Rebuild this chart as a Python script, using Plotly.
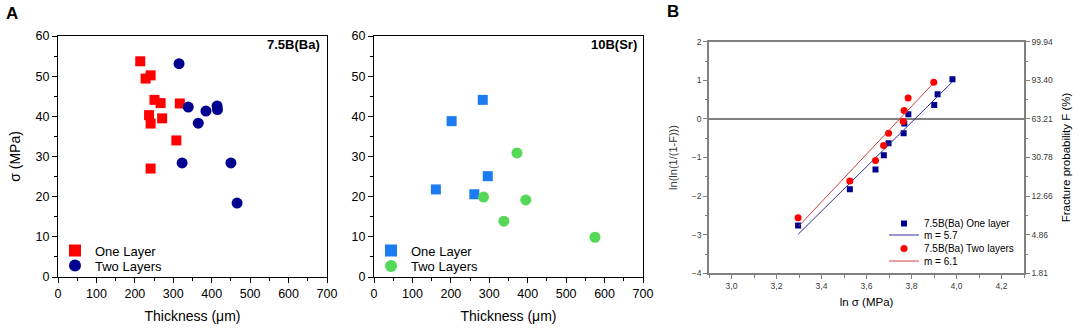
import plotly.graph_objects as go

# ---------------- data ----------------
# Panel A (left): 7.5B(Ba)
ba_one_thick = [214, 228, 241, 251, 267, 317, 237, 241, 271, 308, 241]
ba_one_sigma = [53.7, 49.4, 50.2, 44.1, 43.3, 43.2, 40.3, 38.2, 39.5, 34.0, 27.0]
ba_two_thick = [315, 339, 385, 414, 415, 365, 323, 450, 466]
ba_two_sigma = [53.1, 42.3, 41.3, 42.6, 41.7, 38.3, 28.4, 28.4, 18.4]
# Panel A (right): 10B(Sr)
sr_one_thick = [283, 202, 296, 161, 261]
sr_one_sigma = [44.1, 38.8, 25.1, 21.8, 20.6]
sr_two_thick = [372, 285, 395, 338, 575]
sr_two_sigma = [30.9, 19.9, 19.2, 13.9, 9.9]

# Panel B: Weibull plot
wb_one_lns = [3.296, 3.526, 3.640, 3.677, 3.698, 3.765, 3.768, 3.786, 3.901, 3.916, 3.982]
wb_one_y = [-2.76, -1.82, -1.31, -0.94, -0.63, -0.37, -0.12, 0.12, 0.36, 0.64, 1.03]
wb_two_lns = [3.296, 3.526, 3.640, 3.676, 3.698, 3.763, 3.767, 3.785, 3.899]
wb_two_y = [-2.56, -1.61, -1.08, -0.69, -0.37, -0.07, 0.22, 0.54, 0.95]
fit_one_lns = [3.296, 3.980]
fit_one_y = [-2.99, 0.95]
fit_two_lns = [3.300, 3.890]
fit_two_y = [-2.77, 0.88]

xB_tickvals = [3.0, 3.2, 3.4, 3.6, 3.8, 4.0, 4.2]
xB_ticktext = ["3,0", "3,2", "3,4", "3,6", "3,8", "4,0", "4,2"]
yB_tickvals = [2, 1, 0, -1, -2, -3, -4]
yB_right_ticktext = ["99.94", "93.40", "63.21", "30.78", "12.66", "4.86", "1.81"]

# ---------------- figure ----------------
W, H = 1084, 333
FONT = "Arial, 'Liberation Sans', sans-serif"


def px_x(p):
    return p / W


def px_y(p):
    return 1 - p / H


fig = go.Figure()

RED = "#ff0000"
NAVY = "#000090"
BLUE = "#1a7cf0"
GREEN = "#55d855"

fig.add_trace(go.Scatter(x=ba_one_thick, y=ba_one_sigma, mode="markers", name="One Layer",
                         marker=dict(symbol="square", size=10, color=RED),
                         xaxis="x", yaxis="y", legend="legend"))
fig.add_trace(go.Scatter(x=ba_two_thick, y=ba_two_sigma, mode="markers", name="Two Layers",
                         marker=dict(symbol="circle", size=11, color=NAVY),
                         xaxis="x", yaxis="y", legend="legend2"))
fig.add_trace(go.Scatter(x=sr_one_thick, y=sr_one_sigma, mode="markers", name="One Layer",
                         marker=dict(symbol="square", size=10, color=BLUE),
                         xaxis="x2", yaxis="y2", legend="legend3"))
fig.add_trace(go.Scatter(x=sr_two_thick, y=sr_two_sigma, mode="markers", name="Two Layers",
                         marker=dict(symbol="circle", size=11, color=GREEN),
                         xaxis="x2", yaxis="y2", legend="legend4"))

fig.add_trace(go.Scatter(x=wb_one_lns, y=wb_one_y, mode="markers", name="7.5B(Ba) One layer",
                         marker=dict(symbol="square", size=6, color=NAVY),
                         xaxis="x3", yaxis="y3", legend="legend5"))
fig.add_trace(go.Scatter(x=fit_one_lns, y=fit_one_y, mode="lines", name="m = 5.7",
                         line=dict(color="#30309a", width=1),
                         xaxis="x3", yaxis="y3", legend="legend6"))
fig.add_trace(go.Scatter(x=wb_two_lns, y=wb_two_y, mode="markers", name="7.5B(Ba) Two layers",
                         marker=dict(symbol="circle", size=7, color=RED),
                         xaxis="x3", yaxis="y3", legend="legend7"))
fig.add_trace(go.Scatter(x=fit_two_lns, y=fit_two_y, mode="lines", name="m = 6.1",
                         line=dict(color="#d04040", width=1),
                         xaxis="x3", yaxis="y3", legend="legend8"))
# invisible trace to activate right-hand probability axis
fig.add_trace(go.Scatter(x=wb_one_lns, y=wb_one_y, mode="markers", showlegend=False,
                         marker=dict(opacity=0), hoverinfo="skip",
                         xaxis="x3", yaxis="y4"))

# ---------------- axes ----------------
A_dom_y = [px_y(277), px_y(36)]


def axA(rng, dtick, mdtick, dom, anchor, title=None):
    d = dict(range=rng, dtick=dtick, tick0=0, domain=dom, anchor=anchor, automargin=False,
             showline=True, linecolor="black", linewidth=1.3, mirror=True,
             ticks="outside", ticklen=5, tickwidth=1.3, tickcolor="black",
             showgrid=False, zeroline=False,
             tickfont=dict(family=FONT, size=12.5, color="black"),
             minor=dict(ticks="outside", ticklen=3, tickwidth=1.3, tickcolor="black",
                        dtick=mdtick, tick0=0, showgrid=False))
    if title:
        d["title"] = dict(text=title, font=dict(family=FONT, size=14, color="black"), standoff=11)
    return d


GRAY = "#808080"
TXT = "#3a3a3a"


def axB(**kw):
    d = dict(showline=True, linecolor=GRAY, linewidth=1.5, automargin=False,
             ticks="outside", ticklen=4, tickwidth=1.2, tickcolor=GRAY,
             showgrid=False, zeroline=False,
             tickfont=dict(family=FONT, size=8.5, color=TXT),
             minor=dict(ticks="outside", ticklen=2.5, tickwidth=1.2, tickcolor=GRAY, showgrid=False))
    d.update(kw)
    return d


B_dom_x = [px_x(709), px_x(1024)]
B_dom_y = [px_y(273.3), px_y(41.7)]

fig.update_layout(
    width=W, height=H,
    margin=dict(l=0, r=0, t=0, b=0),
    paper_bgcolor="white", plot_bgcolor="white",
    font=dict(family=FONT, color="black"),
    xaxis=axA([0, 700], 100, 50, [px_x(58), px_x(327)], "y", "Thickness (\u03bcm)"),
    yaxis=axA([0, 60], 10, 5, A_dom_y, "x", "\u03c3 (MPa)"),
    xaxis2=axA([0, 700], 100, 50, [px_x(374), px_x(643)], "y2", "Thickness (\u03bcm)"),
    yaxis2=axA([0, 60], 10, 5, A_dom_y, "x2"),
    xaxis3=axB(range=[2.9, 4.3], domain=B_dom_x, anchor="y3", mirror=True,
               tickmode="array", tickvals=xB_tickvals, ticktext=xB_ticktext,
               minor=dict(ticks="outside", ticklen=2.5, tickwidth=1.2, tickcolor=GRAY,
                          dtick=0.1, tick0=3.0, showgrid=False),
               title=dict(text="ln \u03c3 (MPa)", font=dict(family=FONT, size=11.5, color="black"),
                          standoff=8)),
    yaxis3=axB(range=[-4, 2], domain=B_dom_y, anchor="x3", dtick=1, tick0=0,
               zeroline=True, zerolinecolor=GRAY, zerolinewidth=1.5,
               minor=dict(ticks="outside", ticklen=2.5, tickwidth=1.2, tickcolor=GRAY,
                          dtick=0.5, tick0=0, showgrid=False),
               title=dict(text="ln(ln(1/(1-F)))", font=dict(family=FONT, size=11, color=TXT),
                          standoff=12)),
    yaxis4=axB(range=[-4, 2], overlaying="y3", side="right", anchor="x3",
               tickmode="array", tickvals=yB_tickvals, ticktext=yB_right_ticktext,
               minor=dict(ticks="outside", ticklen=2.5, tickwidth=1.2, tickcolor=GRAY,
                          dtick=0.5, tick0=0, showgrid=False),
               title=dict(text="Fracture probability F (%)",
                          font=dict(family=FONT, size=11.5, color="black"), standoff=10)),
)


def leg(xc, yc, size, sizing="trace"):
    return dict(x=px_x(xc - 20), y=px_y(yc), xanchor="left", yanchor="middle",
                bgcolor="rgba(0,0,0,0)", borderwidth=0, itemsizing=sizing,
                font=dict(family=FONT, size=size, color="black"))


fig.update_layout(
    legend=leg(75, 250.5, 13, "constant"),
    legend2=leg(75, 265.5, 13, "constant"),
    legend3=leg(391, 250.5, 13, "constant"),
    legend4=leg(391, 266, 13, "constant"),
    legend5=leg(904, 223.5, 10),
    legend6=leg(904, 235, 10),
    legend7=leg(904, 248.5, 10),
    legend8=leg(904, 261, 10),
)

ann = [
    dict(text="<b>A</b>", x=px_x(4), y=px_y(13), xanchor="left", yanchor="middle", size=17),
    dict(text="<b>B</b>", x=px_x(665), y=px_y(12), xanchor="left", yanchor="middle", size=17),
    dict(text="<b>7.5B(Ba)</b>", x=px_x(322), y=px_y(45), xanchor="right", yanchor="middle", size=13),
    dict(text="<b>10B(Sr)</b>", x=px_x(639), y=px_y(45), xanchor="right", yanchor="middle", size=13),
]
for a in ann:
    fig.add_annotation(text=a["text"], x=a["x"], y=a["y"], xref="paper", yref="paper",
                       xanchor=a["xanchor"], yanchor=a["yanchor"], showarrow=False,
                       font=dict(family=FONT, size=a["size"], color="black"))

fig.write_html("out.html", config={"displayModeBar": False},
               post_script="document.body.style.margin='0';document.body.style.overflow='hidden';")
